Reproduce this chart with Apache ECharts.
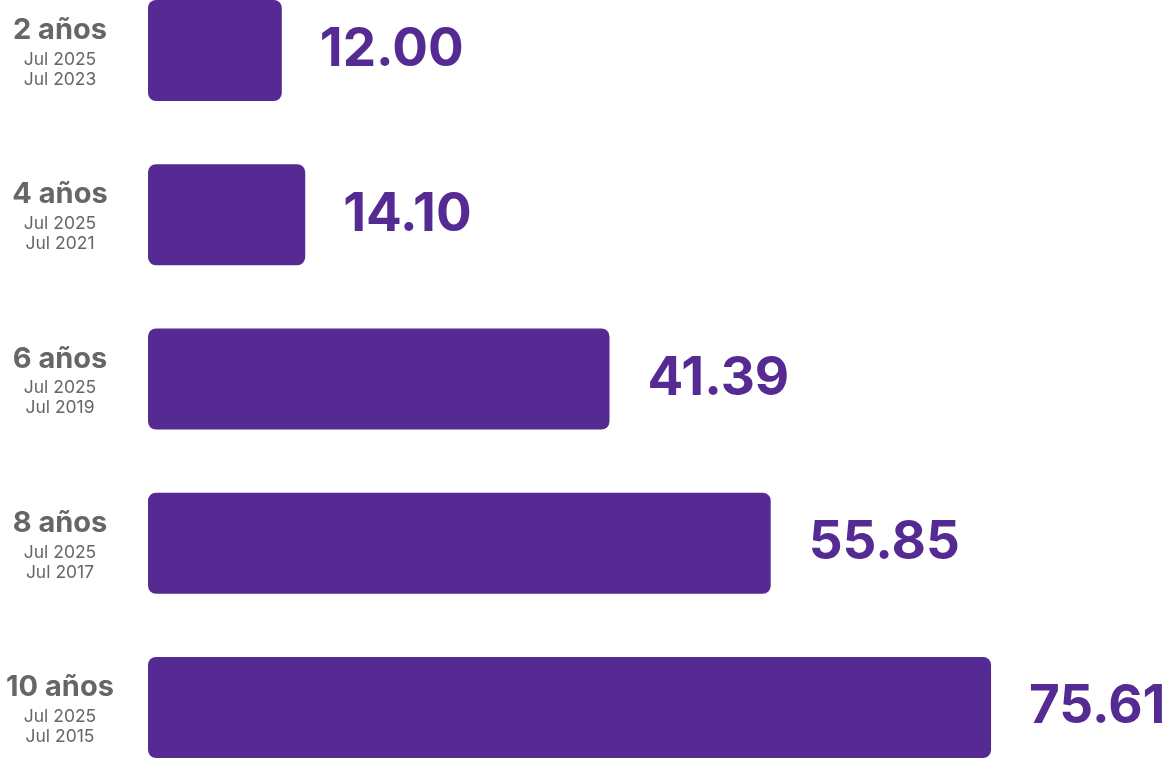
<!DOCTYPE html>
<html>
<head>
<meta charset="utf-8">
<script src="https://cdn.jsdelivr.net/npm/echarts@6/dist/echarts.min.js"></script>
<style>
html,body{margin:0;padding:0;background:#fff;}
#chart{width:1173px;height:759px;}
</style>
</head>
<body>
<div id="chart"></div>
<script>
const periods = ['2 años', '4 años', '6 años', '8 años', '10 años'];
const endDates = ['Jul 2025', 'Jul 2025', 'Jul 2025', 'Jul 2025', 'Jul 2025'];
const startDates = ['Jul 2023', 'Jul 2021', 'Jul 2019', 'Jul 2017', 'Jul 2015'];
const values = [12.00, 14.10, 41.39, 55.85, 75.61];

const purple = '#552B93';
const gray = '#666666';

const chart = echarts.init(document.getElementById('chart'));
chart.setOption({
  animation: false,
  textStyle: { fontFamily: 'Inter' },
  grid: { left: 148, right: 133, top: 50.5, bottom: 51.5, containLabel: false },
  xAxis: {
    type: 'value', min: 0, max: 80,
    show: false
  },
  yAxis: {
    type: 'category',
    inverse: true,
    boundaryGap: false,
    data: periods,
    axisLine: { show: false },
    axisTick: { show: false },
    splitLine: { show: false },
    axisLabel: {
      margin: 88,
      align: 'center',
      formatter: function (v, i) {
        return '{t|' + v + '}\n{s|' + endDates[i] + '}\n{s|' + startDates[i] + '}';
      },
      rich: {
        t: { fontFamily: 'Inter', fontSize: 29, fontWeight: 700, color: gray, lineHeight: 38, align: 'center' },
        s: { fontFamily: 'Inter', fontSize: 17.5, fontWeight: 400, color: gray, lineHeight: 20, align: 'center' }
      }
    }
  },
  series: [{
    type: 'bar',
    data: values,
    barWidth: 101,
    clip: false,
    itemStyle: { color: purple, borderRadius: 8 },
    label: {
      show: true,
      position: 'right',
      distance: 38,
      formatter: function (p) { return p.value.toFixed(2); },
      fontFamily: 'Inter',
      fontSize: 53,
      fontWeight: 700,
      color: purple
    }
  }]
});
</script>
</body>
</html>
